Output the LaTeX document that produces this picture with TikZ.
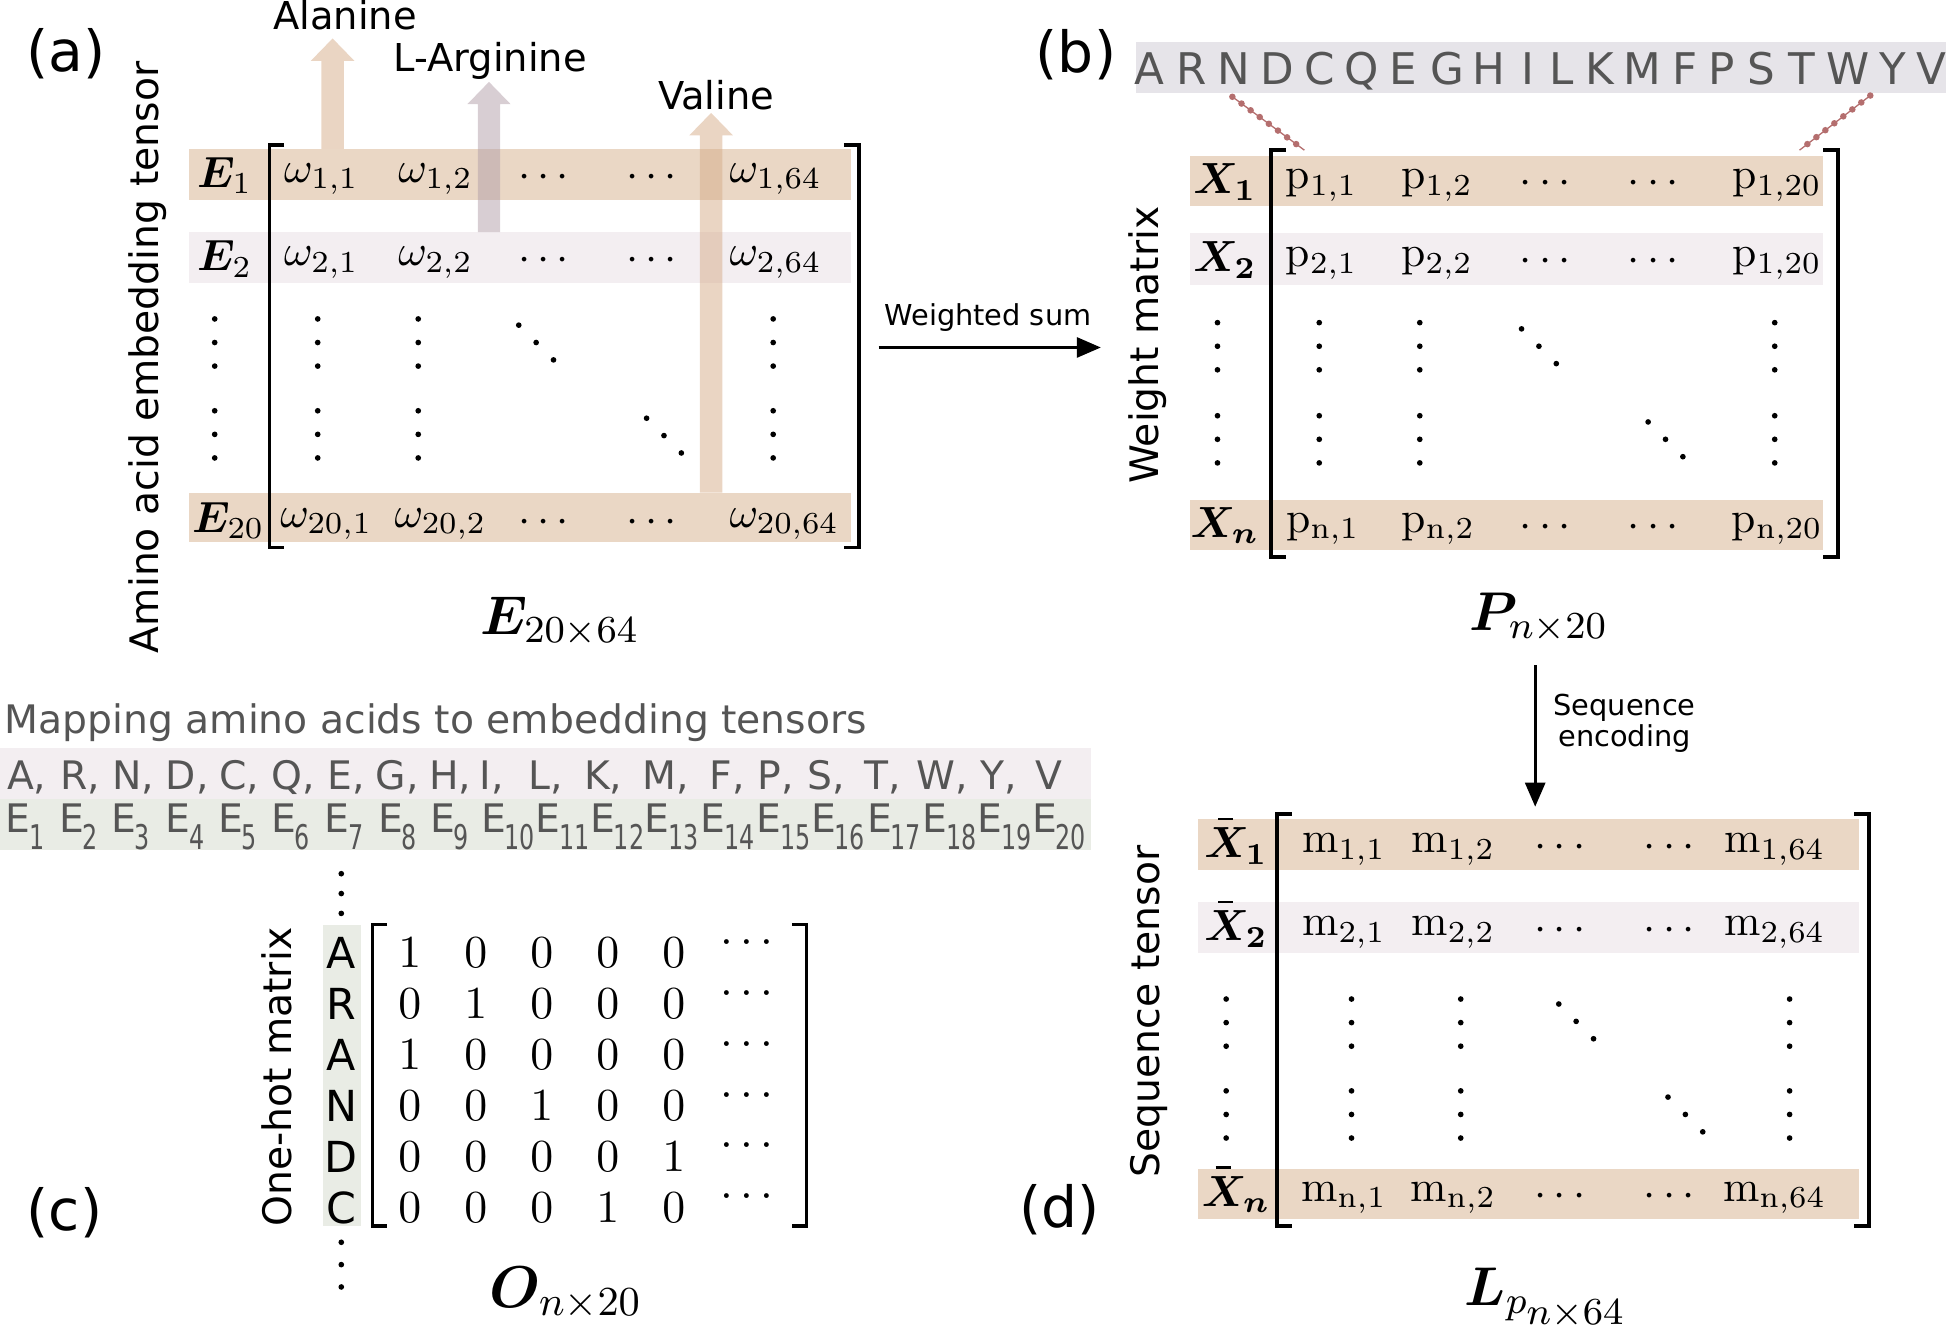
\RequirePackage{fix-cm}
\documentclass[tikz,border=0pt]{standalone}
\usepackage{fontspec}
\usepackage{amsmath,bm}
\usetikzlibrary{arrows.meta}
\newfontfamily\dvs{DejaVu Sans}

\definecolor{tanband}{RGB}{234,215,197}
\definecolor{pinkband}{RGB}{243,238,241}
\definecolor{greenband}{RGB}{233,236,229}
\definecolor{seqbar}{RGB}{230,228,233}
\definecolor{graytext}{RGB}{85,85,85}
\definecolor{dotline}{RGB}{180,110,110}
\definecolor{tanarrow}{RGB}{214,172,136}
\definecolor{argarrow}{RGB}{178,158,168}

% E with a small subscript, as in the mapping row
\newcommand\Esub[1]{E\kern-0.3pt\raisebox{-0.42em}{\scalebox{0.7}[1]{\fontsize{7.8}{8}\selectfont #1}}}
% three dots, vertical and diagonal
\newcommand\vdts[2]{\foreach \dd in {-1,0,1} \fill (#1,#2+19*\dd) circle[radius=0.65pt];}
\newcommand\ddts[2]{\foreach \dd in {-1,0,1} \fill (#1+14*\dd,#2+14*\dd) circle[radius=0.65pt];}
% matrix brackets: x left, x right, y top, y bottom
\newcommand\mbrack[4]{%
  \draw[brk] (#1+12,#3) -- (#1,#3) -- (#1,#4) -- (#1+12,#4);
  \draw[brk] (#2-12,#3) -- (#2,#3) -- (#2,#4) -- (#2-12,#4);}
% wide up arrow: style, x, y of foot, y of tip
\newcommand\fatarrow[4]{\fill[#1] (#2-9,#3) -- (#2-9,#4+18) -- (#2-17.5,#4+18)
  -- (#2,#4) -- (#2+17.5,#4+18) -- (#2+9,#4+18) -- (#2+9,#3) -- cycle;}
% bar over a row label of (d)
\newcommand\xbar[1]{\draw[line width=0.6pt] ([xshift=3.4pt,yshift=1.8pt]#1.north west) -- ++(12,0);}

\tikzset{
  ent/.style={inner sep=0pt, font=\fontsize{10}{12}\selectfont},
  big/.style={inner sep=0pt, font=\fontsize{12.5}{15}\selectfont},
  side/.style={rotate=90, inner sep=0pt, font=\dvs\fontsize{9}{11}\selectfont},
  tag/.style={inner sep=0pt, font=\dvs\fontsize{13}{15}\selectfont},
  lbl/.style={inner sep=0pt, anchor=base, font=\dvs\fontsize{8.8}{10}\selectfont},
  small/.style={inner sep=0pt, align=center, font=\dvs\fontsize{6.6}{7.2}\selectfont},
  aa/.style={inner sep=0pt, text=graytext, font=\dvs\fontsize{9}{11}\selectfont},
  onehot/.style={inner sep=0pt, font=\fontsize{10.5}{12}\selectfont},
  brk/.style={line width=0.8pt},
  flow/.style={line width=0.6pt, -{Triangle[length=5.5pt,width=4.6pt]}},
  link/.style={dotline, line width=1.5pt, dash pattern=on 0pt off 2.6pt, line cap=round},
}

\begin{document}
\begin{tikzpicture}[x=0.01cm, y=-0.01cm]
    \useasboundingbox (0,0) rectangle (1568,1077);

    % ---------------- (a) embedding tensor ----------------
    \fill[tanband]  (152,120) rectangle (686,161);
    \fill[pinkband] (152,187) rectangle (686,228);
    \fill[tanband]  (152,397) rectangle (686,437);

    % arrows to the amino acids
    \fatarrow{tanarrow, fill opacity=0.5}{268}{120}{31}
    \fatarrow{argarrow, fill opacity=0.5}{394}{187}{66}
    \fatarrow{tanarrow, fill opacity=0.5}{573}{397}{91}
    \node[lbl] (ala) at (278,24) {Alanine};
    \node[lbl] (arg) at (395,58) {L-Arginine};
    \node[lbl] (val) at (577,88) {Valine};

    \mbrack{217}{692}{117}{441}

    \node[tag] (ta) at (53,43) {(a)};
    \node[side] (amino) at (119,288) {Amino acid embedding tensor};

    \node[ent,anchor=base] (e1) at (181,151) {$\bm{E}_1$};
    \node[ent,anchor=base] (e2) at (181,218) {$\bm{E}_2$};
    \node[ent,anchor=base] (e20) at (184,429) {$\bm{E}_{20}$};

    \node[ent,anchor=base] (w11) at (259,147) {$\omega_{1,1}$};
    \node[ent,anchor=base] (w12) at (351,147) {$\omega_{1,2}$};
    \node[ent,anchor=base] (w1d) at (441,151) {$\cdots$};
    \node[ent,anchor=base] (w1e) at (528,151) {$\cdots$};
    \node[ent,anchor=base] (w1l) at (625,147) {$\omega_{1,64}$};

    \node[ent,anchor=base] (w21) at (259,214) {$\omega_{2,1}$};
    \node[ent,anchor=base] (w22) at (351,214) {$\omega_{2,2}$};
    \node[ent,anchor=base] (w2d) at (441,218) {$\cdots$};
    \node[ent,anchor=base] (w2e) at (528,218) {$\cdots$};
    \node[ent,anchor=base] (w2l) at (625,214) {$\omega_{2,64}$};

    \node[ent,anchor=base] (wn1) at (263,425) {$\omega_{20,1}$};
    \node[ent,anchor=base] (wn2) at (355,425) {$\omega_{20,2}$};
    \node[ent,anchor=base] (wnd) at (441,429) {$\cdots$};
    \node[ent,anchor=base] (wne) at (528,429) {$\cdots$};
    \node[ent,anchor=base] (wnl) at (632,425) {$\omega_{20,64}$};

    \foreach \xx in {173,256,337,623} {\vdts{\xx}{276} \vdts{\xx}{350}}
    \ddts{432}{276}
    \ddts{535}{351}

    \node[big] (emat) at (451,501) {$\bm{E}_{20\times 64}$};

    % weighted sum
    \coordinate (ws1) at (708,280);
    \coordinate (ws2) at (887,280);
    \draw[flow] (ws1) -- (ws2);
    \node[small,anchor=base] (wsum) at (796,262) {Weighted sum};

    % ---------------- (b) weight matrix ----------------
    \node[tag] (tb) at (867,44) {(b)};
    \fill[seqbar] (915,34) rectangle (1568,75);
    \foreach \ch/\xx in {A/926,R/960,N/994,D/1029,C/1063,Q/1097,E/1131,G/1166,H/1200,I/1231,
        L/1258,K/1289,M/1323,F/1358,P/1387,S/1419,T/1452,W/1489,Y/1525,V/1556}
      \node[aa,anchor=base,font=\dvs\fontsize{10}{12}\selectfont] (s-\ch) at (\xx,68) {\ch};

    \fill[tanband]  (959,126) rectangle (1469,166);
    \fill[pinkband] (959,188) rectangle (1469,230);
    \fill[tanband]  (959,403) rectangle (1469,443);

    \coordinate (l1a) at (993,78);
    \coordinate (l1b) at (1051,121);
    \coordinate (l2a) at (1507,77);
    \coordinate (l2b) at (1450,121);
    \draw[dotline, line width=0.3pt] (l1a) -- (l1b);
    \draw[dotline, line width=0.3pt] (l2a) -- (l2b);
    \draw[link] (l1a) -- (l1b);
    \draw[link] (l2a) -- (l2b);

    \mbrack{1024}{1481}{121}{449}

    \node[side] (wmat) at (925,278) {Weight matrix};

    \node[ent,anchor=base] (x1) at (987,156) {$\bm{X_1}$};
    \node[ent,anchor=base] (x2) at (987,219) {$\bm{X_2}$};
    \node[ent,anchor=base] (xn) at (987,433) {$\bm{X_n}$};

    \node[ent,anchor=base] (p11) at (1065,152) {$\mathrm{p}_{1,1}$};
    \node[ent,anchor=base] (p12) at (1158,152) {$\mathrm{p}_{1,2}$};
    \node[ent,anchor=base] (p1d) at (1248,156) {$\cdots$};
    \node[ent,anchor=base] (p1e) at (1335,156) {$\cdots$};
    \node[ent,anchor=base] (p1l) at (1432,152) {$\mathrm{p}_{1,20}$};

    \node[ent,anchor=base] (p21) at (1065,215) {$\mathrm{p}_{2,1}$};
    \node[ent,anchor=base] (p22) at (1158,215) {$\mathrm{p}_{2,2}$};
    \node[ent,anchor=base] (p2d) at (1248,219) {$\cdots$};
    \node[ent,anchor=base] (p2e) at (1335,219) {$\cdots$};
    \node[ent,anchor=base] (p2l) at (1432,215) {$\mathrm{p}_{1,20}$};

    \node[ent,anchor=base] (pn1) at (1066,429) {$\mathrm{p}_{\mathrm{n},1}$};
    \node[ent,anchor=base] (pn2) at (1159,429) {$\mathrm{p}_{\mathrm{n},2}$};
    \node[ent,anchor=base] (pnd) at (1248,433) {$\cdots$};
    \node[ent,anchor=base] (pne) at (1335,433) {$\cdots$};
    \node[ent,anchor=base] (pnl) at (1432,429) {$\mathrm{p}_{\mathrm{n},20}$};

    \foreach \xx in {981,1063,1144,1430} {\vdts{\xx}{279} \vdts{\xx}{354}}
    \ddts{1240}{279}
    \ddts{1342}{354}

    \node[big] (pmat) at (1240,498) {$\bm{P}_{n\times 20}$};

    % sequence encoding
    \coordinate (se1) at (1237,536);
    \coordinate (se2) at (1237,650);
    \draw[flow] (se1) -- (se2);
    \node[small] (senc) at (1309,583) {Sequence\\encoding};

    % ---------------- (c) one-hot matrix ----------------
    \node[aa,anchor=base west,font=\dvs\fontsize{9}{11}\selectfont] (maptxt) at (3,591)
      {Mapping amino acids to embedding tensors};
    \fill[pinkband]  (0,603) rectangle (879,644);
    \fill[greenband] (0,644) rectangle (879,685);
    \foreach \ch/\xx in {A/5,R/48,N/90,D/133,C/176,Q/218,E/263,G/302,H/345,I/386,
        L/425,K/470,M/517,F/571,P/610,S/650,T/696,W/738,Y/789}
      \node[aa,anchor=base west] (c-\ch) at (\xx,636) {\ch,};
    \node[aa,anchor=base west] (c-V) at (834,636) {V};
    \foreach \k/\xx in {1/4,2/47,3/89,4/133,5/175,6/218,7/261,8/304,9/346,10/387,
        11/431,12/475,13/519,14/564,15/609,16/653,17/698,18/743,19/787,20/831}
      \node[aa,anchor=base west] (em-\k) at (\xx,671) {\Esub{\k}};

    \foreach \yy in {704,720,736,1001,1019,1037} \fill (275,\yy) circle[radius=0.65pt];

    \fill[greenband] (260,745) rectangle (291,988);
    \mbrack{300}{650}{745}{988}

    \node[tag] (tc) at (52,977) {(c)};
    \node[side] (ohm) at (223,868) {One-hot matrix};

    \foreach \ch [count=\r] in {A,R,A,N,D,C}
      \node[inner sep=0pt, font=\dvs\fontsize{9.8}{11}\selectfont] (o-\r) at (275,727+41*\r) {\ch};

    \foreach \row [count=\r] in {{1,0,0,0,0},{0,1,0,0,0},{1,0,0,0,0},{0,0,1,0,0},{0,0,0,0,1},{0,0,0,1,0}} {
      \foreach \v [count=\c] in \row
        \node[onehot] (o\r-\c) at (277+53.2*\c,727+41*\r) {$\v$};
      \node[onehot] (o\r-d) at (605,719+41*\r) {$\cdots$};
    }

    \node[big,font=\fontsize{13.5}{15}\selectfont] (omat) at (456,1042) {$\bm{O}_{n\times 20}$};

    % ---------------- (d) sequence tensor ----------------
    \node[tag] (td) at (854,975) {(d)};
    \fill[tanband]  (965,660) rectangle (1498,701);
    \fill[pinkband] (965,727) rectangle (1498,768);
    \fill[tanband]  (965,942) rectangle (1498,982);

    \mbrack{1029}{1506}{656}{988}

    \node[side] (stens) at (926,815) {Sequence tensor};

    \node[ent,anchor=base] (xb1) at (996,691) {$\bm{X}_{\bm{1}}$};
    \node[ent,anchor=base] (xb2) at (996,758) {$\bm{X}_{\bm{2}}$};
    \node[ent,anchor=base] (xbn) at (996,972) {$\bm{X}_{\bm{n}}$};
    \xbar{xb1} \xbar{xb2} \xbar{xbn}

    \node[ent,anchor=base] (m11) at (1083,687) {$\mathrm{m}_{1,1}$};
    \node[ent,anchor=base] (m12) at (1171,687) {$\mathrm{m}_{1,2}$};
    \node[ent,anchor=base] (m1d) at (1260,691) {$\cdots$};
    \node[ent,anchor=base] (m1e) at (1348,691) {$\cdots$};
    \node[ent,anchor=base] (m1l) at (1430,687) {$\mathrm{m}_{1,64}$};

    \node[ent,anchor=base] (m21) at (1083,754) {$\mathrm{m}_{2,1}$};
    \node[ent,anchor=base] (m22) at (1171,754) {$\mathrm{m}_{2,2}$};
    \node[ent,anchor=base] (m2d) at (1260,758) {$\cdots$};
    \node[ent,anchor=base] (m2e) at (1348,758) {$\cdots$};
    \node[ent,anchor=base] (m2l) at (1430,754) {$\mathrm{m}_{2,64}$};

    \node[ent,anchor=base] (mn1) at (1083,968) {$\mathrm{m}_{\mathrm{n},1}$};
    \node[ent,anchor=base] (mn2) at (1171,968) {$\mathrm{m}_{\mathrm{n},2}$};
    \node[ent,anchor=base] (mnd) at (1260,972) {$\cdots$};
    \node[ent,anchor=base] (mne) at (1348,972) {$\cdots$};
    \node[ent,anchor=base] (mnl) at (1430,968) {$\mathrm{m}_{\mathrm{n},64}$};

    \foreach \xx in {988,1089,1177,1442} {\vdts{\xx}{824} \vdts{\xx}{898}}
    \ddts{1270}{823}
    \ddts{1358}{898}

    \node[big] (lmat) at (1246,1046) {$\bm{L}_{p_{\scriptstyle n\times 64}}$};
\end{tikzpicture}
\end{document}
